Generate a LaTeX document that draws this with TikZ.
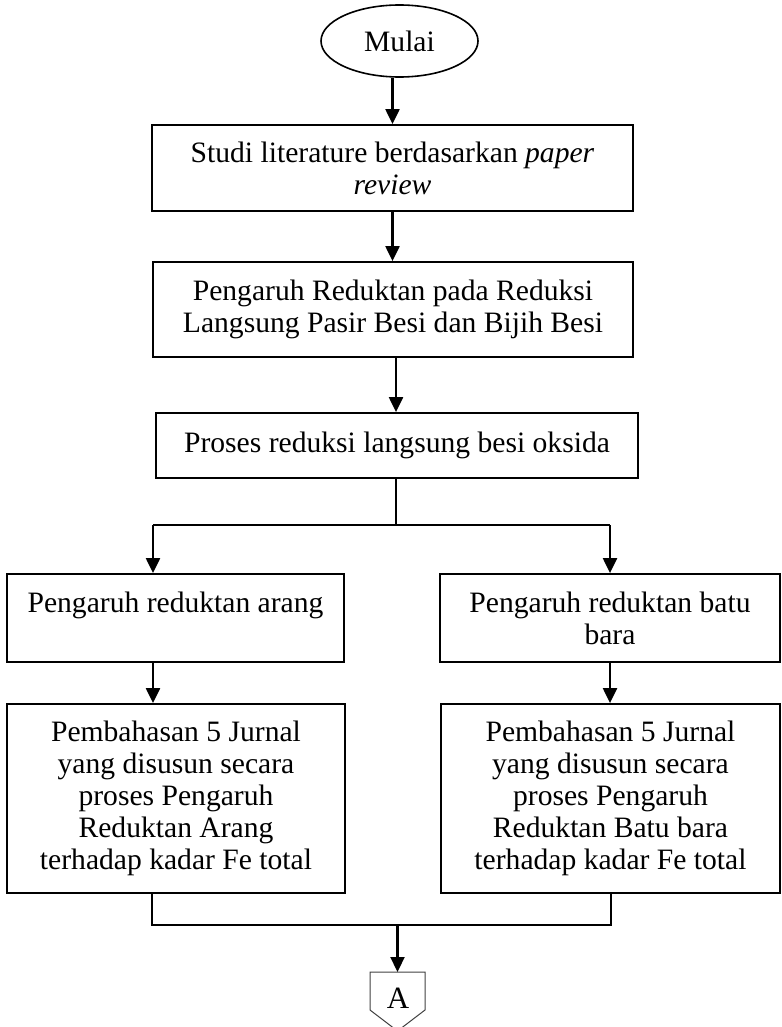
\documentclass[tikz,border=0pt]{standalone}
\usepackage{fontspec}
\setmainfont{Liberation Serif}
\usetikzlibrary{arrows.meta,shapes.geometric,calc}
\begin{document}
\begin{tikzpicture}[x=1pt,y=-1pt,
  txt/.style={font=\fontsize{29.6}{32}\selectfont},
  box/.style={draw, line width=1.8pt, rectangle, align=center, inner sep=0pt, txt},
  arr/.style={line width=2.2pt, -{Triangle[length=15pt,width=14pt]}},
  ln/.style={line width=1.8pt},
  thinln/.style={line width=1.1pt}]
\useasboundingbox (0,0) rectangle (781,1027);
\node[draw, ellipse, line width=1.6pt, minimum width=157pt, minimum height=72pt, inner sep=0pt, txt] (start) at (399.5,41) {Mulai};
\node[box, minimum width=481pt, minimum height=86pt] (b1) at (392.5,168) {Studi literature berdasarkan \textit{paper}\\\textit{review}};
\node[box, minimum width=480pt, minimum height=95pt] (b2) at (393,309.5) {Pengaruh Reduktan pada Reduksi\\Langsung Pasir Besi dan Bijih Besi};
\node[box, minimum width=482pt, minimum height=65pt] (b3) at (397,445.5) {Proses reduksi langsung besi oksida};
\node[box, minimum width=337pt, minimum height=88pt] (b4l) at (175.5,618) {Pengaruh reduktan arang\\\phantom{bara}};
\node[box, minimum width=340pt, minimum height=88pt] (b4r) at (610,618) {Pengaruh reduktan batu\\bara};
\node[box, minimum width=338pt, minimum height=189pt] (b5l) at (176,798.5) {Pembahasan 5 Jurnal\\yang disusun secara\\proses Pengaruh\\Reduktan Arang\\terhadap kadar Fe total};
\node[box, minimum width=339pt, minimum height=189pt] (b5r) at (610.5,798.5) {Pembahasan 5 Jurnal\\yang disusun secara\\proses Pengaruh\\Reduktan Batu bara\\terhadap kadar Fe total};
\node[font=\fontsize{31}{34}\selectfont, inner sep=0pt] (A) at (398,998) {A};
\coordinate (ptop) at (397.5,972);
\draw[line width=1pt, black!75] (370,972) -- (425,972) -- (425,1010) -- (397.5,1031) -- (370,1010) -- cycle;
% junction coordinates
\coordinate (s) at (396,525);
\coordinate (sl) at (153,525);
\coordinate (sr) at (610,525);
\coordinate (ml) at (152,925);
\coordinate (mr) at (611,925);
\coordinate (m) at (397.5,925);
% connectors
\draw[arr] (start.south -| b1.north) -- (b1.north);
\draw[arr] (b1.south) -- (b1.south |- b2.north);
\draw[arr] (b2.south -| s) -- (b3.north -| s);
\draw[thinln] (b3.south -| s) -- (s);
\draw[ln] (sl) -- (sr);
\draw[arr] (sl) -- (sl |- b4l.north);
\draw[arr] (sr) -- (sr |- b4r.north);
\draw[arr] (b4l.south -| sl) -- (b5l.north -| sl);
\draw[arr] (b4r.south -| sr) -- (b5r.north -| sr);
\draw[ln] (b5l.south -| ml) -- (ml) -- (mr) -- (b5r.south -| mr);
\draw[arr] (m) -- (ptop);
\end{tikzpicture}
\end{document}
